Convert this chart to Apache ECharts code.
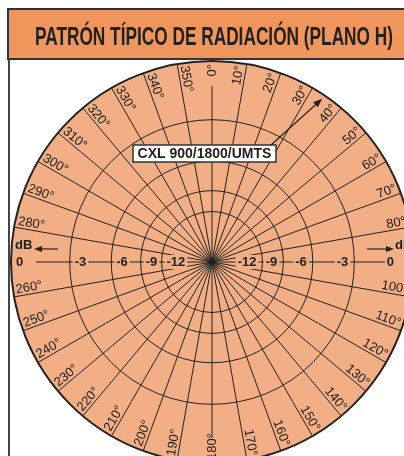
<!DOCTYPE html>
<html><head><meta charset="utf-8">
<script src="https://cdn.jsdelivr.net/npm/echarts@6/dist/echarts.min.js"></script>
<style>html,body{margin:0;padding:0;background:#fff}#c{width:404px;height:456px}</style>
</head><body><div id="c"></div>
<script>
// ---- data ----
const titleText = 'PATRÓN TÍPICO DE RADIACIÓN (PLANO H)';
const annotationText = 'CXL 900/1800/UMTS';
const unitLabel = 'dB';
const ringDb = [0, -3, -6, -9, -12];
const dbTickLabels = ['0', '-3', '-6', '-9', '-12'];
const spokeAngles = [0, 10, 20, 30, 40, 50, 60, 70, 80, 90, 100, 110, 120, 130, 140, 150, 160, 170,
  180, 190, 200, 210, 220, 230, 240, 250, 260, 270, 280, 290, 300, 310, 320, 330, 340, 350];
const angleLabelValues = [0, 10, 20, 30, 40, 50, 60, 70, 80, 100, 110, 120, 130, 140, 150, 160, 170,
  180, 190, 200, 210, 220, 230, 240, 250, 260, 280, 290, 300, 310, 320, 330, 340, 350];
const annotationAngle = 34;

// ---- style ----
const FILL = '#F2AE84', TITLE_BG = '#F0965C', INK = '#222';
const R = 201, CX = 212, CY = 262;
const FONT = '"Liberation Sans", Arial, sans-serif';
const amp = db => Math.pow(10, db / 20);
const px = p => p / R; // pixel length -> radius axis units

const chart = echarts.init(document.getElementById('c'), null, {renderer: 'canvas'});

const ctx = document.createElement('canvas').getContext('2d');
const titleFont = 'bold 26px "Liberation Sans Narrow", "Liberation Sans", Arial, sans-serif';
ctx.font = titleFont;
const titleScale = 358 / ctx.measureText(titleText).width;

const ringSeries = {
  type: 'custom', coordinateSystem: 'polar', silent: true, z: 2,
  data: ringDb.map(d => [amp(d), 0]),
  renderItem(params, api) {
    const c = api.coord([0, 0]);
    const p = api.coord([api.value(0), 0]);
    const r = Math.hypot(p[0] - c[0], p[1] - c[1]);
    const outer = params.dataIndex === 0;
    return {type: 'circle', shape: {cx: c[0], cy: c[1], r},
      style: {fill: outer ? FILL : 'none', stroke: INK, lineWidth: outer ? 2 : 1}, z2: outer ? 0 : 2};
  }
};
const spokeSeries = {
  type: 'custom', coordinateSystem: 'polar', silent: true, z: 3,
  data: spokeAngles.map(a => [a % 90 === 0 ? px(176) : 1, a]),
  renderItem(params, api) {
    const a = api.value(1);
    const c = api.coord([0, a]);
    const p = api.coord([api.value(0), a]);
    return {type: 'line', shape: {x1: c[0], y1: c[1], x2: p[0], y2: p[1]},
      style: {stroke: INK, lineWidth: 1}};
  }
};
const angleLabelSeries = {
  type: 'custom', coordinateSystem: 'polar', silent: true, z: 5,
  data: angleLabelValues.map(a => [px(198), a]),
  renderItem(params, api) {
    const a = api.value(1);
    const p = api.coord([api.value(0), a]);
    const right = a < 180;
    const rot = (right ? 90 - a : 270 - a) * Math.PI / 180;
    return {type: 'text', x: p[0], y: p[1], rotation: rot,
      style: {text: a + '°', x: 0, y: 0, align: right ? 'right' : 'left',
        verticalAlign: a % 90 === 0 ? 'middle' : 'bottom', fill: INK, font: '13px ' + FONT}};
  }
};
const dbLabelSeries = {
  type: 'custom', coordinateSystem: 'polar', silent: true, z: 6,
  data: [].concat(
    ringDb.map((d, i) => [amp(d) - px(i === 0 ? 3 : 3), 270, i]),
    ringDb.map((d, i) => [amp(d) - px(i === 0 ? 17 : 4), 90, i])
  ),
  renderItem(params, api) {
    const a = api.value(1);
    const i = api.value(2);
    const p = api.coord([api.value(0), a]);
    return {type: 'text', x: p[0], y: p[1],
      style: {text: dbTickLabels[i], x: 0, y: 0, align: a === 90 ? 'right' : 'left',
        verticalAlign: 'middle', fill: INK, font: 'bold 13px ' + FONT,
        backgroundColor: FILL, padding: [1, 2, 0, 2]}};
  }
};

function arrow(x1, y1, x2, y2, len, half) {
  const ang = Math.atan2(y2 - y1, x2 - x1);
  const bx = x2 - len * Math.cos(ang), by = y2 - len * Math.sin(ang);
  const nx = -Math.sin(ang) * half, ny = Math.cos(ang) * half;
  return [
    {type: 'line', z: 100, silent: true, shape: {x1, y1, x2: bx, y2: by}, style: {stroke: INK, lineWidth: 1.2}},
    {type: 'polygon', z: 100, silent: true, shape: {points: [[x2, y2], [bx + nx, by + ny], [bx - nx, by - ny]]}, style: {fill: INK}}
  ];
}

// annotation arrow tip located on the chart via polar geometry
const tipR = 197;
const tipX = CX + tipR * Math.sin(annotationAngle * Math.PI / 180);
const tipY = CY - tipR * Math.cos(annotationAngle * Math.PI / 180);

chart.setOption({
  animation: false,
  backgroundColor: '#fff',
  polar: {center: [CX, CY], radius: R},
  radiusAxis: {type: 'value', min: 0, max: 1, show: false},
  angleAxis: {type: 'value', min: 0, max: 360, startAngle: 90, clockwise: true, show: false},
  series: [ringSeries, spokeSeries, angleLabelSeries, dbLabelSeries],
  graphic: [
    {type: 'rect', z: 100, silent: true, shape: {x: 8, y: 9, width: 420, height: 50},
      style: {fill: TITLE_BG, stroke: '#333', lineWidth: 2}},
    {type: 'text', z: 101, silent: true, x: 214, y: 38, scaleX: titleScale,
      style: {text: titleText, x: 0, y: 0, align: 'center', verticalAlign: 'middle', fill: INK, font: titleFont}},
    {type: 'line', z: 100, silent: true, shape: {x1: 9, y1: 59, x2: 9, y2: 460}, style: {stroke: '#444', lineWidth: 2}},
    {type: 'rect', z: 100, silent: true, shape: {x: 133, y: 145, width: 143, height: 17},
      style: {fill: '#fff', stroke: '#333', lineWidth: 1.5}},
    {type: 'text', z: 101, silent: true, x: 204.5, y: 154,
      style: {text: annotationText, align: 'center', verticalAlign: 'middle', fill: INK, font: 'bold 14px ' + FONT}},
    ...arrow(271, 145, tipX, tipY, 9, 3.5),
    {type: 'text', z: 101, silent: true, x: 15, y: 245,
      style: {text: unitLabel, align: 'left', verticalAlign: 'middle', fill: INK, font: 'bold 13px ' + FONT}},
    ...arrow(58, 249, 34, 249, 8, 3),
    {type: 'text', z: 101, silent: true, x: 395, y: 245,
      style: {text: unitLabel, align: 'left', verticalAlign: 'middle', fill: INK, font: 'bold 13px ' + FONT}},
    ...arrow(367, 249, 394, 249, 8, 3)
  ]
});
</script></body></html>
